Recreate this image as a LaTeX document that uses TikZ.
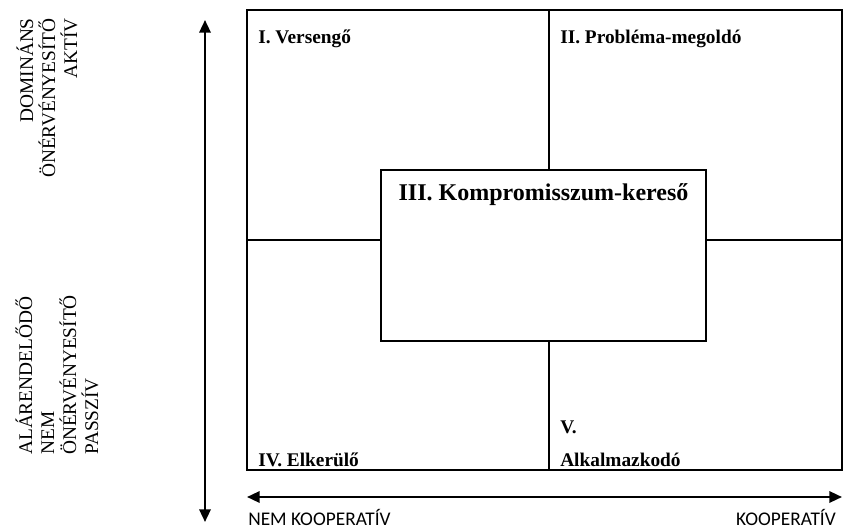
\documentclass[tikz,border=0pt]{standalone}
\usepackage{fontspec}
\setmainfont{Liberation Serif}
\newfontfamily\labelsans{Carlito}
\usetikzlibrary{arrows.meta}

\tikzset{
  quadlabel/.style={anchor=base west, inner sep=0, font=\fontsize{14.5}{17}\selectfont\bfseries},
  sidelabel/.style={rotate=90, inner sep=0, font=\fontsize{14.5}{16.5}\selectfont},
  axislabel/.style={inner sep=0, font=\labelsans\fontsize{14.5}{16}\selectfont},
  axis/.style={line width=1.7pt, arrows={Triangle[length=9.5pt,width=8.5pt]-Triangle[length=9.5pt,width=8.5pt]}},
}

\begin{document}
\begin{tikzpicture}[x=0.75pt, y=-0.75pt]
  \useasboundingbox (0,0) rectangle (843,528);

  % frame and the box in the middle
  \coordinate (nw) at (247,10);
  \coordinate (se) at (842,470);
  \coordinate (mid) at (549,240);
  \draw[line width=0.8pt] (nw) rectangle (se);
  \node[draw, fill=white, line width=1.5pt, minimum width=243.75pt, minimum height=128.25pt, inner sep=0] (kompr) at (543.5,255.5) {};
  \node[anchor=base, inner sep=0, font=\fontsize{18}{20}\selectfont\bfseries] (kompr title) at (543.5,200) {III. Kompromisszum-kereső};

  \draw[line width=0.8pt] (mid |- nw) -- (mid |- kompr.north);
  \draw[line width=0.8pt] (mid |- kompr.south) -- (mid |- se);
  \draw[line width=0.8pt] (nw |- mid) -- (kompr.west |- mid);
  \draw[line width=0.8pt] (kompr.east |- mid) -- (se |- mid);

  \node[quadlabel] (versengo) at (258,44) {I. Versengő};
  \node[quadlabel] (problema) at (560,44) {II. Probléma-megoldó};
  \node[quadlabel] (otodik) at (560,433) {V.};
  \node[quadlabel] (elkerulo) at (258,466) {IV. Elkerülő};
  \node[quadlabel] (alkalm) at (560,466) {Alkalmazkodó};

  % axes
  \coordinate (up) at (205,20);
  \coordinate (down) at (205,522);
  \draw[axis] (down) -- (up);
  \coordinate (left) at (247,497);
  \coordinate (right) at (842,497);
  \draw[axis] (left) -- (right);

  \node[axislabel, anchor=base west] (nemkoop) at (248,525) {NEM KOOPERATÍV};
  \node[axislabel, anchor=base east] (koop) at (836,525) {KOOPERATÍV};

  \node[sidelabel, align=right, anchor=east] (aktiv) at (47,18) {DOMINÁNS\\ÖNÉRVÉNYESÍTŐ\\AKTÍV};
  \node[sidelabel, align=left, anchor=west] (passziv) at (57,455) {ALÁRENDELŐDŐ\\NEM\\ÖNÉRVÉNYESÍTŐ\\PASSZÍV};
\end{tikzpicture}
\end{document}
